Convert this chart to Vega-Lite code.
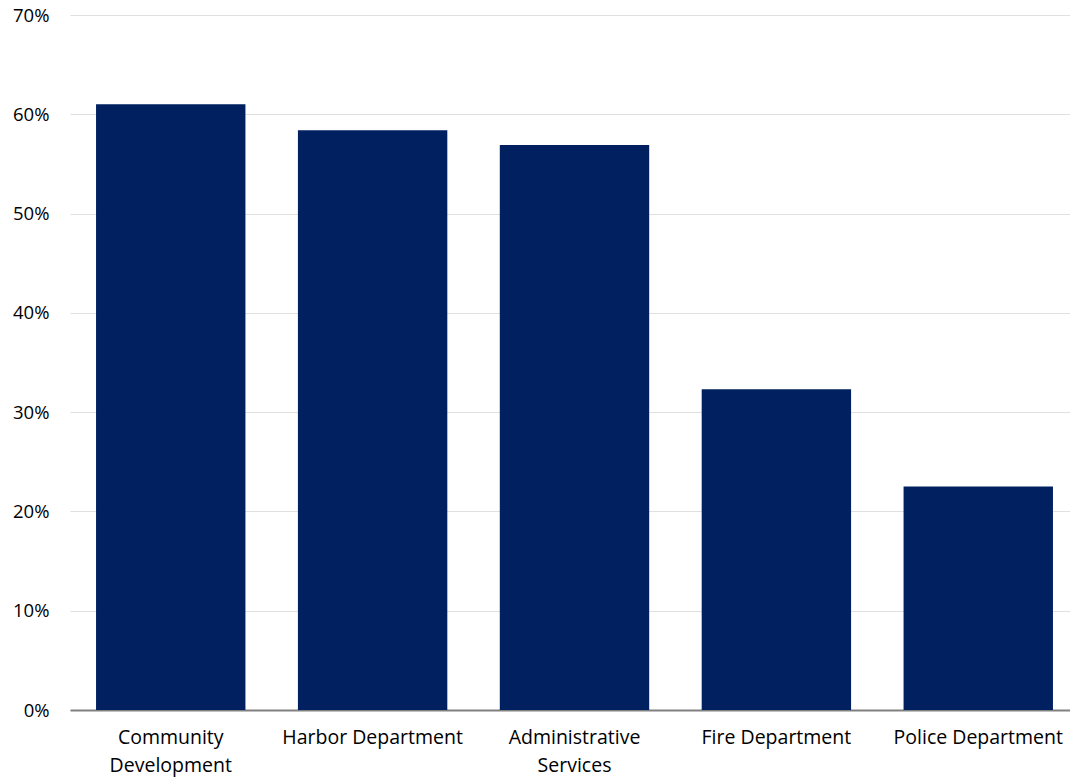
{
  "$schema": "https://vega.github.io/schema/vega-lite/v6.json",
  "autosize": "none",
  "width": 1009,
  "height": 695,
  "padding": {"left": 70, "top": 15, "right": 0, "bottom": 68},
  "background": "white",
  "config": {"view": {"stroke": null}, "font": "Open Sans"},
  "data": {"values": [
    {"dept": "Community Development", "pct": 0.610},
    {"dept": "Harbor Department", "pct": 0.584},
    {"dept": "Administrative Services", "pct": 0.569},
    {"dept": "Fire Department", "pct": 0.323},
    {"dept": "Police Department", "pct": 0.225}
  ]},
  "mark": {"type": "bar", "color": "#002060"},
  "encoding": {
    "x": {
      "field": "dept", "type": "nominal", "sort": null,
      "scale": {"paddingInner": 0.26, "paddingOuter": 0.129},
      "axis": {
        "title": null, "labelAngle": 0, "ticks": false,
        "domainColor": "#808080", "domainWidth": 2,
        "labelFontSize": 19.5, "labelColor": "#000000", "labelPadding": 18,
        "labelLineHeight": 28, "labelOverlap": false, "labelBound": false, "labelLimit": 400,
        "labelExpr": "datum.value == 'Community Development' ? ['Community', 'Development'] : datum.value == 'Administrative Services' ? ['Administrative', 'Services'] : datum.value"
      }
    },
    "y": {
      "field": "pct", "type": "quantitative",
      "scale": {"domain": [0, 0.7], "nice": false},
      "axis": {
        "title": null, "format": ".0%", "values": [0,0.1,0.2,0.3,0.4,0.5,0.6,0.7],
        "ticks": false, "domain": false, "gridColor": "#e0e0e0", "gridWidth": 1,
        "labelFontSize": 18.5, "labelColor": "#000000", "labelPadding": 21,
        "labelOverlap": false, "labelFlush": false
      }
    }
  }
}
